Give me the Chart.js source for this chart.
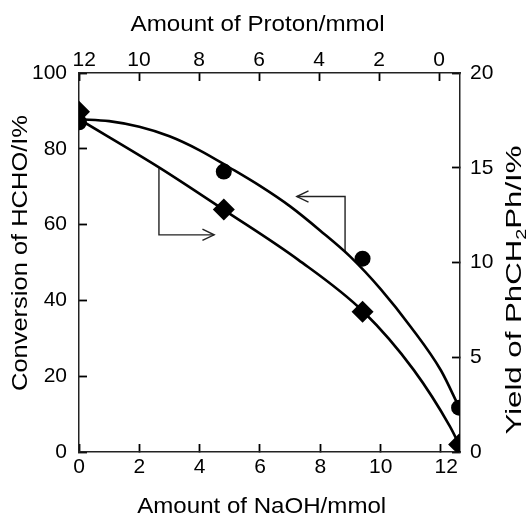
<!DOCTYPE html>
<html>
<head>
<meta charset="utf-8">
<script src="https://cdn.jsdelivr.net/npm/chart.js@4.4.0/dist/chart.umd.min.js"></script>
<style>
  html, body { margin: 0; padding: 0; background: #fff; }
  #wrap { width: 526px; height: 516px; position: relative; }
</style>
</head>
<body>
<div id="wrap"><canvas id="chart"></canvas></div>
<script>
// NaOH added (mmol) for each run
const naoh = [0, 4.8, 9.4, 12.6];
// conversion of HCHO (%) - circles, left axis
const conversion = [87.0, 74.0, 51.0, 11.7];
// yield of PhCH2Ph (%) - diamonds, right axis
const yieldPh = [17.95, 12.8, 7.4, 0.4];

// trend curves
const convCurveX = [0, 1, 2, 3, 4, 5, 6, 7, 8, 9, 10, 11, 12, 12.6];
const convCurveY = [87.8, 87.3, 85.8, 83.3, 79.6, 75.0, 70.2, 64.8, 58.4, 51.5, 43.0, 33.0, 21.5, 11.8];
const yieldCurveX = [0, 2.69, 4.8, 7.27, 9.43, 11.1, 12.3, 12.6];
const yieldCurveY = [17.56, 14.98, 12.78, 10.14, 7.4, 4.32, 1.34, 0.4];

// the two axis arrows (in NaOH / conversion units)
const arrowYieldX = [2.65, 2.65, 4.48];
const arrowYieldY = [74.9, 57.3, 57.3];
const arrowConvX = [8.82, 8.82, 7.22];
const arrowConvY = [52.8, 67.4, 67.4];

// tick labels
const naohTicks = [0, 2, 4, 6, 8, 10, 12];
const protonTicks = [12, 10, 8, 6, 4, 2, 0];
const convTicks = [0, 20, 40, 60, 80, 100];
const yieldTicks = [0, 5, 10, 15, 20];

const INK = '#000';
const FRAME = '#222';
const FONT = '"Liberation Sans", Arial, sans-serif';
const TICK_IN = 8;   // tick marks point into the plot

function pts(xs, ys) {
  return xs.map((x, i) => ({ x: x, y: ys[i] }));
}

// open arrow heads at the end of the arrow datasets
const arrowHeads = {
  id: 'arrowHeads',
  afterDatasetsDraw(chart) {
    const ctx = chart.ctx;
    chart.data.datasets.forEach((ds, i) => {
      if (!ds.arrowHead) return;
      const el = chart.getDatasetMeta(i).data;
      const a = el[el.length - 2], b = el[el.length - 1];
      const ang = Math.atan2(b.y - a.y, b.x - a.x);
      const L = 13, spread = 0.45;
      ctx.save();
      ctx.strokeStyle = ds.borderColor;
      ctx.lineWidth = 1.4;
      ctx.beginPath();
      ctx.moveTo(b.x - L * Math.cos(ang - spread), b.y - L * Math.sin(ang - spread));
      ctx.lineTo(b.x, b.y);
      ctx.lineTo(b.x - L * Math.cos(ang + spread), b.y - L * Math.sin(ang + spread));
      ctx.stroke();
      ctx.restore();
    });
  }
};

// axis titles, stretched to the length they have in the figure
function drawTitle(ctx, parts, x, y, rot, length) {
  const big = '22px ' + FONT;
  const small = '14px ' + FONT;
  let w = 0;
  parts.forEach(p => { ctx.font = p.sub ? small : big; p.w = ctx.measureText(p.t).width; w += p.w; });
  ctx.save();
  ctx.translate(x, y);
  ctx.rotate(rot);
  ctx.scale(length / w, 1);
  ctx.fillStyle = INK;
  ctx.textBaseline = 'alphabetic';
  ctx.textAlign = 'left';
  let cx = -w / 2;
  parts.forEach(p => {
    ctx.font = p.sub ? small : big;
    ctx.fillText(p.t, cx, p.sub ? 5 : 0);
    cx += p.w;
  });
  ctx.restore();
}

const axisTitles = {
  id: 'axisTitles',
  afterDraw(chart) {
    const ctx = chart.ctx;
    drawTitle(ctx, [{ t: 'Amount of Proton/mmol' }], 257.5, 30.5, 0, 254);
    drawTitle(ctx, [{ t: 'Amount of NaOH/mmol' }], 261.7, 513, 0, 249);
    drawTitle(ctx, [{ t: 'Conversion of HCHO/I%' }], 27, 253, -Math.PI / 2, 276);
    drawTitle(ctx, [{ t: 'Yield of PhCH' }, { t: '2', sub: true }, { t: 'Ph/I%' }], 521, 290, -Math.PI / 2, 289);
  }
};

// the "12" labels sit a little to the right of their ticks in the figure
function tickLabel(v) {
  return v === 12 ? '\u2002' + v : String(v);
}

function axis(position, min, max, ticks, padding, size, extra) {
  return Object.assign({
    type: 'linear',
    position: position,
    min: min,
    max: max,
    grid: {
      drawOnChartArea: false,
      tickLength: -TICK_IN,
      tickColor: INK,
      tickWidth: 1.8
    },
    border: { display: true, color: FRAME, width: 1.5 },
    ticks: {
      color: INK,
      padding: padding + TICK_IN,
      font: { family: FONT, size: 21 },
      callback: tickLabel
    },
    afterBuildTicks: s => { s.ticks = ticks.map(v => ({ value: v })); },
    afterFit: s => {
      if (position === 'top' || position === 'bottom') s.height = size; else s.width = size;
    }
  }, extra || {});
}

new Chart(document.getElementById('chart'), {
  type: 'line',
  data: {
    datasets: [
      {
        label: 'Conversion of HCHO',
        data: pts(naoh, conversion),
        xAxisID: 'x', yAxisID: 'y',
        showLine: false,
        pointStyle: 'circle', pointRadius: 8,
        pointBackgroundColor: INK, pointBorderColor: INK, pointBorderWidth: 0
      },
      {
        label: 'Yield of PhCH2Ph',
        data: pts(naoh, yieldPh),
        xAxisID: 'x', yAxisID: 'y2',
        showLine: false,
        pointStyle: 'rectRot', pointRadius: 11,
        pointBackgroundColor: INK, pointBorderColor: INK, pointBorderWidth: 0
      },
      {
        label: 'conversion trend',
        data: pts(convCurveX, convCurveY),
        xAxisID: 'x', yAxisID: 'y',
        borderColor: INK, borderWidth: 2.6,
        pointRadius: 0, cubicInterpolationMode: 'monotone'
      },
      {
        label: 'yield trend',
        data: pts(yieldCurveX, yieldCurveY),
        xAxisID: 'x', yAxisID: 'y2',
        borderColor: INK, borderWidth: 2.6,
        pointRadius: 0, cubicInterpolationMode: 'monotone'
      },
      {
        label: 'arrow to yield axis',
        data: pts(arrowYieldX, arrowYieldY),
        xAxisID: 'x', yAxisID: 'y',
        borderColor: FRAME, borderWidth: 1.4, pointRadius: 0, tension: 0,
        arrowHead: true
      },
      {
        label: 'arrow to conversion axis',
        data: pts(arrowConvX, arrowConvY),
        xAxisID: 'x', yAxisID: 'y',
        borderColor: FRAME, borderWidth: 1.4, pointRadius: 0, tension: 0,
        arrowHead: true
      }
    ]
  },
  options: {
    responsive: true,
    maintainAspectRatio: false,
    animation: false,
    layout: { padding: 0 },
    plugins: {
      legend: { display: false },
      tooltip: { enabled: false }
    },
    scales: {
      x: axis('bottom', 0, 12.63, naohTicks, 3, 64),
      x2: axis('top', -0.7, 12, protonTicks, 0, 73, { reverse: true }),
      y: axis('left', 0, 100, convTicks, 12, 79),
      y2: axis('right', 0, 20, yieldTicks, 10, 66)
    }
  },
  plugins: [arrowHeads, axisTitles]
});
</script>
</body>
</html>
